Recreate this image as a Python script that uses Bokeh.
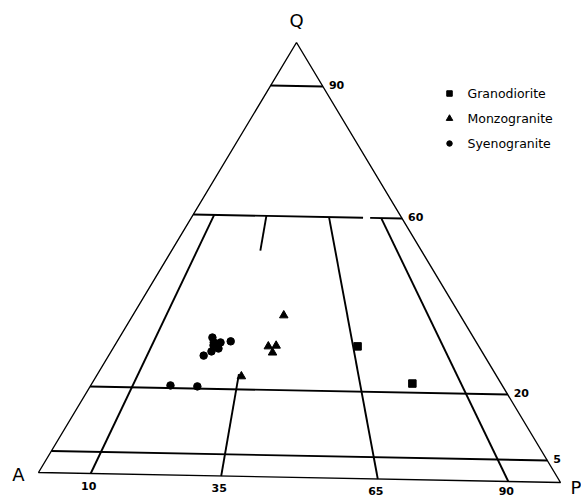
from bokeh.plotting import figure
from bokeh.models import Range1d
from bokeh.core.properties import value
from bokeh.embed import file_html
from bokeh.resources import INLINE

# QAP modal compositions (percent): Q = quartz, A = alkali feldspar, P = plagioclase
grano_Q = [30.4, 22.1]
grano_P = [46.1, 60.7]
grano_A = [100 - q - p for q, p in zip(grano_Q, grano_P)]

monzo_Q = [37.2, 30.0, 30.2, 28.6, 23.0]
monzo_P = [28.6, 29.2, 30.6, 30.7, 27.5]
monzo_A = [100 - q - p for q, p in zip(monzo_Q, monzo_P)]

syeno_Q = [31.8, 30.7, 30.7, 29.3, 28.6, 27.6, 31.0, 30.0, 20.6, 20.5]
syeno_P = [17.6, 18.4, 19.7, 20.0, 19.0, 18.0, 21.5, 18.7, 15.1, 20.3]
syeno_A = [100 - q - p for q, p in zip(syeno_Q, syeno_P)]

# field boundaries
q_levels = [90, 60, 20, 5]          # Q lines
p_ratios = [10, 35, 65, 90]         # 100*P/(A+P) lines
legend_names = ["Granodiorite", "Monzogranite", "Syenogranite"]

W, H = 581, 499
FONT = value("DejaVu Sans")
# triangle corners in frame coordinates (slightly skewed, as in the printed plate)
CA = (38.0, 472.0)
CP = (560.0, 482.0)
CQ = (296.0, 42.0)


def tern(q, p):
    """q, p in percent -> frame x, y."""
    q, p = q / 100.0, p / 100.0
    x = CA[0] + p * (CP[0] - CA[0]) + q * (CQ[0] - CA[0])
    y = CA[1] + p * (CP[1] - CA[1]) + q * (CQ[1] - CA[1])
    return x, y


def ratio_pt(r, q):
    """point on line of constant P/(A+P)=r% at quartz q%."""
    return tern(q, (100 - q) * r / 100.0)


p = figure(width=W, height=H, x_range=Range1d(0, W), y_range=Range1d(H, 0),
           output_backend="svg", toolbar_location=None, min_border=0)
p.axis.visible = False
p.grid.visible = False
p.outline_line_color = None
p.background_fill_color = "white"
p.border_fill_color = "white"

xs, ys = [], []

# outline
tri = [tern(100, 0), tern(0, 0), tern(0, 100), tern(100, 0)]
p.line([t[0] for t in tri], [t[1] for t in tri], line_color="black", line_width=1.4)

# horizontal Q lines
for ql in q_levels:
    a = tern(ql, 0)
    b = tern(ql, 100 - ql)
    if ql == 60:
        # printed line has a small break near its right end
        t1, t2 = 0.813, 0.847
        m1 = (a[0] + t1 * (b[0] - a[0]), a[1] + t1 * (b[1] - a[1]))
        m2 = (a[0] + t2 * (b[0] - a[0]), a[1] + t2 * (b[1] - a[1]))
        xs += [[a[0], m1[0]], [m2[0], b[0]]]
        ys += [[a[1], m1[1]], [m2[1], b[1]]]
    else:
        xs.append([a[0], b[0]])
        ys.append([a[1], b[1]])

# P/(A+P) lines
spans = {10: [(0, 60)], 35: [(0, 23.5), (52, 60)], 65: [(0, 60)], 90: [(0, 60)]}
for r in p_ratios:
    for q0, q1 in spans[r]:
        a = ratio_pt(r, q0)
        b = ratio_pt(r, q1)
        xs.append([a[0], b[0]])
        ys.append([a[1], b[1]])

p.multi_line(xs, ys, line_color="black", line_width=1.9)

# samples
def pts(Q, P):
    c = [tern(q, pp) for q, pp in zip(Q, P)]
    return [t[0] for t in c], [t[1] for t in c]

gx, gy = pts(grano_Q, grano_P)
mx, my = pts(monzo_Q, monzo_P)
sx, sy = pts(syeno_Q, syeno_P)
p.scatter(gx, gy, marker="square", size=7.5, fill_color="black", line_color="black")
p.scatter(mx, my, marker="triangle", size=8.5, fill_color="black", line_color="black")
p.scatter(sx, sy, marker="circle", size=7.5, fill_color="black", line_color="black")

# legend
lx, ly0, dy = 449, 93, 25
p.scatter([lx], [ly0], marker="square", size=5.5, fill_color="black", line_color="black")
p.scatter([lx], [ly0 + dy], marker="triangle", size=6.5, fill_color="black", line_color="black")
p.scatter([lx], [ly0 + 2 * dy], marker="circle", size=5.5, fill_color="black", line_color="black")
p.text([lx + 18] * 3, [ly0, ly0 + dy, ly0 + 2 * dy], text=legend_names,
       text_font=FONT, text_font_size="12.5px", text_baseline="middle",
       text_align="left", text_color="black")

# apex labels
p.text([296], [20], text=["Q"], text_font=FONT, text_font_size="18px",
       text_align="center", text_baseline="middle")
p.text([18], [474], text=["A"], text_font=FONT, text_font_size="18px",
       text_align="center", text_baseline="middle")
p.text([570], [487], text=["P"], text_font=FONT, text_font_size="18px",
       text_align="left", text_baseline="middle")

# Q labels along the right side
qlab_x, qlab_y = [], []
for ql in q_levels:
    b = tern(ql, 100 - ql)
    qlab_x.append(b[0] + 6)
    qlab_y.append(b[1] - 2)
p.text(qlab_x, qlab_y, text=[str(v) for v in q_levels], text_font=FONT,
       text_font_size="11px", text_font_style="bold", text_align="left",
       text_baseline="middle")

# ratio labels along the base
blx, bly = [], []
for r in p_ratios:
    b = ratio_pt(r, 0)
    blx.append(b[0] - 2)
    bly.append(min(b[1] + 12, 490))
p.text(blx, bly, text=[str(v) for v in p_ratios], text_font=FONT,
       text_font_size="11px", text_font_style="bold", text_align="center",
       text_baseline="middle")

open("out.html", "w").write(file_html(p, INLINE))
